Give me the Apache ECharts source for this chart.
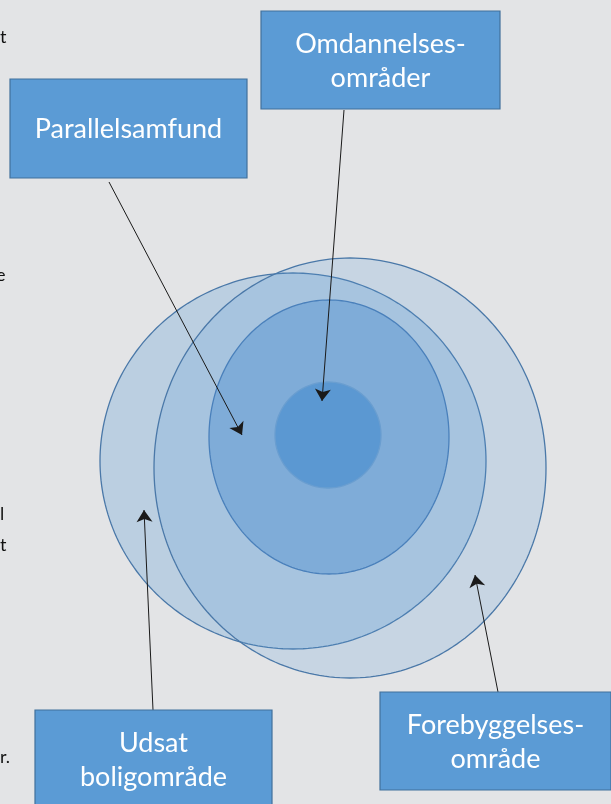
<!DOCTYPE html>
<html>
<head>
<meta charset="utf-8">
<script src="https://cdn.jsdelivr.net/npm/echarts@6/dist/echarts.min.js"></script>
<style>
html,body{margin:0;padding:0;background:#e3e4e6;}
#chart{width:611px;height:804px;}
</style>
</head>
<body>
<div id="chart"></div>
<script>
// Regions (ellipses): centre and radii in diagram units
const regionNames = ['Udsat boligområde', 'Forebyggelsesområde', 'Parallelsamfund', 'Omdannelsesområder'];
const regionCx = [293, 350, 329, 328];
const regionCy = [461, 468, 437, 435];
const regionRx = [193, 196, 120, 53];
const regionRy = [188, 210, 137, 53];

// Label boxes
const boxLabels = ['Parallelsamfund', 'Omdannelses-\nområder', 'Udsat\nboligområde', 'Forebyggelses-\nområde'];
const boxX0 = [10, 261, 35, 380];
const boxY0 = [79, 11, 710, 692];
const boxX1 = [247, 500, 272, 611];
const boxY1 = [178, 109, 820, 790];

// Arrows: from box to region
const arrowFromX = [109, 344, 153, 498];
const arrowFromY = [182, 110, 710, 692];
const arrowToX = [242, 322, 144, 475];
const arrowToY = [435, 401, 510, 575];

// Cut-off text fragments at the left edge
const fragText = ['t', 'e', 'l', 't', 'r.'];
const fragX = [0, -4, 0, 0, 0];
const fragY = [37, 275, 514, 545, 757];

const regionFill = ['rgba(91,155,213,0.29)', 'rgba(91,155,213,0.2)', 'rgb(127,172,216)', 'rgb(91,152,210)'];
const regionStroke = ['#4a78a8', '#4a78a8', '#4a80bb', '#6a9ed0'];

const chart = echarts.init(document.getElementById('chart'), null, {renderer: 'canvas'});

const regionData = regionNames.map((n, i) => [regionCx[i], regionCy[i], regionRx[i], regionRy[i], i]);
const boxData = boxLabels.map((n, i) => [boxX0[i], boxY0[i], boxX1[i], boxY1[i], i]);
const arrowData = arrowFromX.map((x, i) => ({coords: [[x, arrowFromY[i]], [arrowToX[i], arrowToY[i]]]}));
const fragData = fragText.map((t, i) => [fragX[i], fragY[i], i]);

chart.setOption({
  backgroundColor: '#e3e4e6',
  animation: false,
  grid: {left: 0, right: 0, top: 0, bottom: 0},
  xAxis: {type: 'value', min: 0, max: 611, show: false},
  yAxis: {type: 'value', min: 0, max: 804, inverse: true, show: false},
  series: [
    {
      type: 'custom',
      name: 'regions',
      coordinateSystem: 'cartesian2d',
      data: regionData,
      z: 1,
      renderItem: function (params, api) {
        const i = api.value(4);
        const c = api.coord([api.value(0), api.value(1)]);
        const s = api.size([api.value(2), api.value(3)]);
        const pts = [];
        const N = 240;
        for (let k = 0; k < N; k++) {
          const t = 2 * Math.PI * k / N;
          pts.push([c[0] + s[0] * Math.cos(t), c[1] + s[1] * Math.sin(t)]);
        }
        return {
          type: 'polygon',
          shape: {points: pts},
          style: {fill: regionFill[i], stroke: regionStroke[i], lineWidth: 1.3}
        };
      }
    },
    {
      type: 'lines',
      coordinateSystem: 'cartesian2d',
      data: arrowData,
      z: 3,
      symbol: ['none', 'arrow'],
      symbolSize: 12,
      lineStyle: {color: '#1a1a1a', width: 1, opacity: 1}
    },
    {
      type: 'custom',
      name: 'boxes',
      coordinateSystem: 'cartesian2d',
      data: boxData,
      z: 4,
      renderItem: function (params, api) {
        const i = api.value(4);
        const p0 = api.coord([api.value(0), api.value(1)]);
        const p1 = api.coord([api.value(2), api.value(3)]);
        const w = p1[0] - p0[0], h = p1[1] - p0[1];
        return {
          type: 'group',
          children: [
            {type: 'rect', shape: {x: p0[0], y: p0[1], width: w, height: h},
             style: {fill: '#5b9bd5', stroke: '#41719c', lineWidth: 1.2}},
            {type: 'text', x: p0[0] + w / 2, y: p0[1] + 50,
             style: {text: boxLabels[i], fill: '#ffffff', font: '27px Lato', align: 'center',
                     verticalAlign: 'middle', lineHeight: 34}}
          ]
        };
      }
    },
    {
      type: 'custom',
      name: 'fragments',
      coordinateSystem: 'cartesian2d',
      data: fragData,
      z: 5,
      renderItem: function (params, api) {
        const i = api.value(2);
        const p = api.coord([api.value(0), api.value(1)]);
        return {type: 'text', x: p[0], y: p[1],
                style: {text: fragText[i], fill: '#111', font: '18px Lato', align: 'left', verticalAlign: 'middle'}};
      }
    }
  ]
});
</script>
</body>
</html>
